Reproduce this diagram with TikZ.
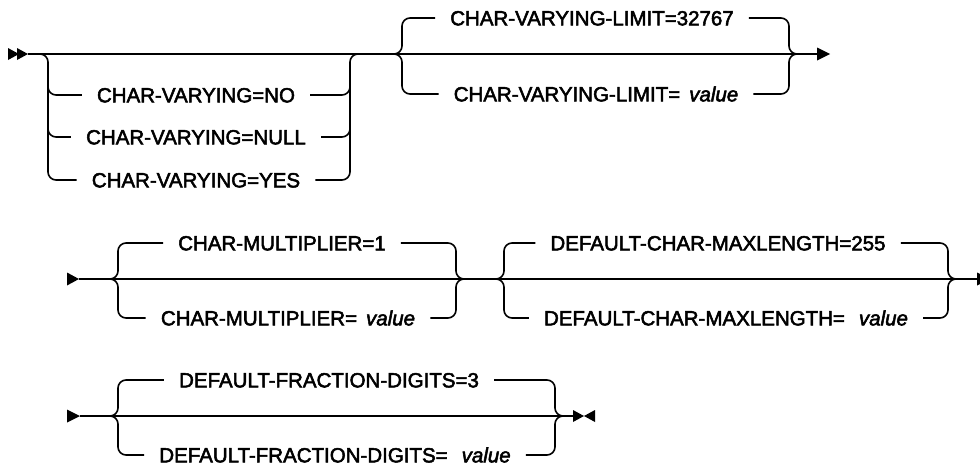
\documentclass[tikz,border=0pt]{standalone}
\usepackage{fontspec}
\setmainfont{Liberation Sans}[UprightFeatures={FakeBold=2.5},ItalicFeatures={FakeBold=2.5}]
\begin{document}
\begin{tikzpicture}[x=1pt,y=-1pt,
  line/.style={line width=1.6pt},
  rr/.style={line width=1.6pt, rounded corners=8pt},
  lbl/.style={font=\fontsize{20.5}{24}\selectfont, inner xsep=15pt, inner ysep=0pt,
              text height=14.7pt, text depth=0pt}]
\useasboundingbox (0,0) rectangle (980,466);

% ---------------- Row 1 ----------------
\fill (8,48) -- (19,54) -- (8,60) -- cycle;
\fill (17,48) -- (28,54) -- (17,60) -- cycle;
\coordinate (s1) at (28,54);
\coordinate (e1) at (817,54);
\draw[line] (s1) -- (e1);
\fill (817,47.5) -- (830,54) -- (817,60.5) -- cycle;

% group A
\node[lbl] (no)   at (196,95)  {CHAR-VARYING=NO};
\node[lbl] (null) at (196,137) {CHAR-VARYING=NULL};
\node[lbl] (yes)  at (196,180) {CHAR-VARYING=YES};
\draw[rr] (40,54) -- (48,54) -- (48,180) -- (yes.west);
\draw[rr] (48,86) -- (48,95) -- (no.west);
\draw[rr] (48,128) -- (48,137) -- (null.west);
\draw[rr] (yes.east) -- (350,180) -- (350,54) -- (358,54);
\draw[rr] (no.east) -- (350,95) -- (350,86);
\draw[rr] (null.east) -- (350,137) -- (350,128);

% group B
\node[lbl] (lim1) at (592,18) {CHAR-VARYING-LIMIT=32767};
\node[lbl] (lim2) at (596,94) {CHAR-VARYING-LIMIT=\hspace{9pt}\textit{value}};
\draw[rr] (394,54) -- (402,54) -- (402,18) -- (lim1.west);
\draw[rr] (394,54) -- (402,54) -- (402,94) -- (lim2.west);
\draw[rr] (lim1.east) -- (789,18) -- (789,54) -- (797,54);
\draw[rr] (lim2.east) -- (789,94) -- (789,54) -- (797,54);

% ---------------- Row 2 ----------------
\fill (67,272.5) -- (79,279) -- (67,285.5) -- cycle;
\coordinate (s2) at (79,279);
\coordinate (e2) at (977,279);
\draw[line] (s2) -- (e2);
\fill (977,272.5) -- (990,279) -- (977,285.5) -- cycle;

% group C
\node[lbl] (mul1) at (282,243) {CHAR-MULTIPLIER=1};
\node[lbl] (mul2) at (288,318) {CHAR-MULTIPLIER=\hspace{9pt}\textit{value}};
\draw[rr] (110,279) -- (118,279) -- (118,243) -- (mul1.west);
\draw[rr] (110,279) -- (118,279) -- (118,318) -- (mul2.west);
\draw[rr] (mul1.east) -- (456,243) -- (456,279) -- (464,279);
\draw[rr] (mul2.east) -- (456,318) -- (456,279) -- (464,279);

% group D
\node[lbl] (max1) at (718,243) {DEFAULT-CHAR-MAXLENGTH=255};
\node[lbl] (max2) at (726,318) {DEFAULT-CHAR-MAXLENGTH=\hspace{14pt}\textit{value}};
\draw[rr] (496,279) -- (504,279) -- (504,243) -- (max1.west);
\draw[rr] (496,279) -- (504,279) -- (504,318) -- (max2.west);
\draw[rr] (max1.east) -- (948,243) -- (948,279) -- (956,279);
\draw[rr] (max2.east) -- (948,318) -- (948,279) -- (956,279);

% ---------------- Row 3 ----------------
\fill (67,409.5) -- (80,416) -- (67,422.5) -- cycle;
\coordinate (s3) at (80,416);
\coordinate (e3) at (573,416);
\draw[line] (s3) -- (e3);
\fill (573,410) -- (584,416) -- (573,422) -- cycle;
\fill (595,410) -- (584,416) -- (595,422) -- cycle;

% group E
\node[lbl] (fr1) at (329,380) {DEFAULT-FRACTION-DIGITS=3};
\node[lbl] (fr2) at (335,455) {DEFAULT-FRACTION-DIGITS=\hspace{14pt}\textit{value}};
\draw[rr] (110,416) -- (118,416) -- (118,380) -- (fr1.west);
\draw[rr] (110,416) -- (118,416) -- (118,455) -- (fr2.west);
\draw[rr] (fr1.east) -- (555,380) -- (555,416) -- (563,416);
\draw[rr] (fr2.east) -- (555,455) -- (555,416) -- (563,416);
\end{tikzpicture}
\end{document}
